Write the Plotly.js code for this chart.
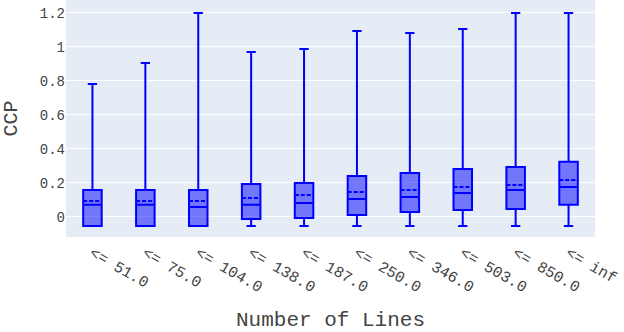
<!DOCTYPE html>
<html>
<head>
<meta charset="utf-8">
<script src="https://cdn.plot.ly/plotly-3.0.1.min.js"></script>
<style>
  body { margin: 0; }
  #chart { width: 624px; height: 332px; }
</style>
</head>
<body>
<div id="chart"></div>
<script>
// bins of the number of lines
var bins = ["<= 51.0", "<= 75.0", "<= 104.0", "<= 138.0", "<= 187.0",
            "<= 250.0", "<= 346.0", "<= 503.0", "<= 850.0", "<= inf"];

// box statistics
var lowerFence = [-0.053, -0.053, -0.053, -0.053, -0.053, -0.053, -0.053, -0.053, -0.053, -0.053];
var q1Vals = [-0.053, -0.053, -0.053, -0.012, -0.006, 0.012, 0.029, 0.041, 0.047, 0.071];
var medianVals = [0.071, 0.071, 0.059, 0.071, 0.082, 0.106, 0.118, 0.141, 0.159, 0.176];
var meanVals = [0.094, 0.094, 0.094, 0.112, 0.129, 0.147, 0.159, 0.176, 0.188, 0.218];
var q3Vals = [0.159, 0.159, 0.159, 0.194, 0.2, 0.241, 0.259, 0.282, 0.294, 0.324];
var upperFence = [0.782, 0.906, 1.2, 0.97, 0.988, 1.094, 1.082, 1.106, 1.2, 1.2];

var trace = {
  type: "box",
  x: bins,
  q1: q1Vals,
  median: medianVals,
  q3: q3Vals,
  mean: meanVals,
  lowerfence: lowerFence,
  upperfence: upperFence,
  boxmean: true,
  marker: { color: "blue" },
  line: { color: "blue", width: 2 },
  showlegend: false
};

var layout = {
  width: 624,
  height: 332,
  margin: { l: 66, r: 29, t: 0, b: 95 },
  paper_bgcolor: "white",
  plot_bgcolor: "#e5ecf6",
  font: { family: "Liberation Mono, monospace", size: 14, color: "#444" },
  boxgap: 0.5,
  xaxis: {
    type: "category",
    tickangle: 30,
    showgrid: false,
    ticklabelstandoff: 3,
    tickfont: { size: 15.5 },
    title: { text: "Number of Lines", font: { size: 21 }, standoff: 45 }
  },
  yaxis: {
    range: [-0.118, 1.276],
    tickvals: [0, 0.2, 0.4, 0.6, 0.8, 1, 1.2],
    gridcolor: "white",
    zeroline: false,
    title: { text: "CCP", font: { size: 20 }, standoff: 30 }
  }
};

Plotly.newPlot("chart", [trace], layout, { displayModeBar: false });
</script>
</body>
</html>
